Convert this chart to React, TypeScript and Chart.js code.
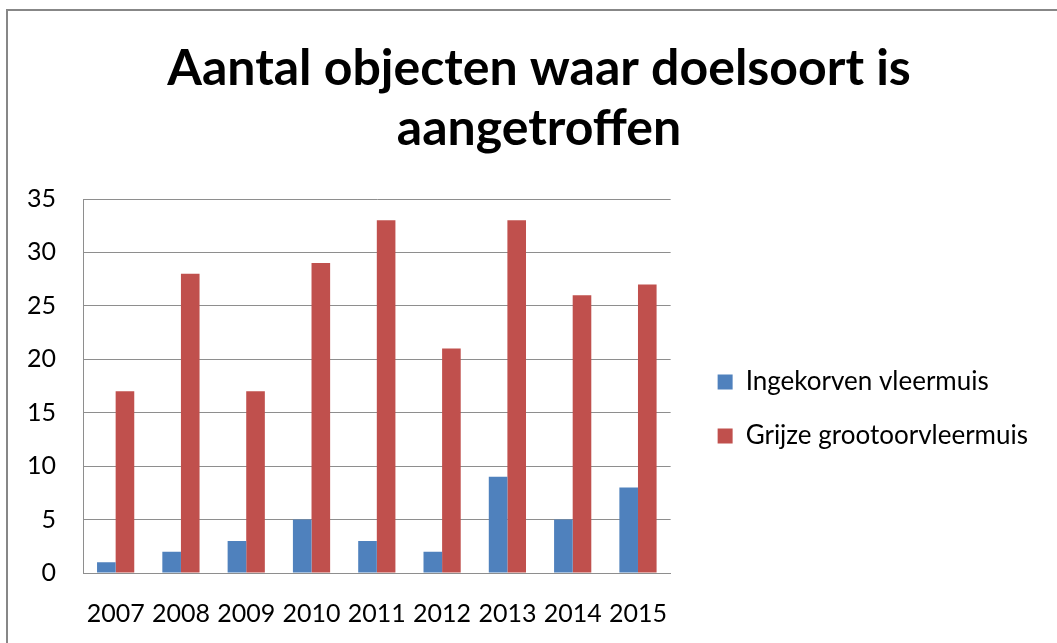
import React, { useEffect, useRef } from "react";
import { Chart, registerables } from "chart.js";

Chart.register(...registerables);

const years = ["2007", "2008", "2009", "2010", "2011", "2012", "2013", "2014", "2015"];
const ingekorven = [1, 2, 3, 5, 3, 2, 9, 5, 8];
const grijze = [17, 28, 17, 29, 33, 21, 33, 26, 27];
const titleLines = ["Aantal objecten waar doelsoort is", "aangetroffen"];
const seriesNames = ["Ingekorven vleermuis", "Grijze grootoorvleermuis"];

// centre the title over the whole framed box (not only the padded layout area)
const titleCenterPlugin = {
  id: "titleCenter",
  afterLayout(chart: any) {
    const t = chart.titleBlock;
    if (!t) return;
    const shift = chart.width / 2 - (t.left + t.right) / 2;
    t.left += shift;
    t.right += shift;
  },
};

export default function App() {
  const ref = useRef<HTMLCanvasElement>(null);
  useEffect(() => {
    if (!ref.current) return;
    const chart = new Chart(ref.current, {
      type: "bar",
      data: {
        labels: years,
        datasets: [
          { label: seriesNames[0], data: ingekorven, backgroundColor: "#4F81BD", borderWidth: 0, categoryPercentage: 0.57, barPercentage: 1 },
          { label: seriesNames[1], data: grijze, backgroundColor: "#C0504D", borderWidth: 0, categoryPercentage: 0.57, barPercentage: 1 },
        ],
      },
      options: {
        responsive: false,
        animation: false,
        layout: { padding: { left: 18, right: 32, top: 0, bottom: 0 } },
        plugins: {
          title: {
            display: true,
            text: titleLines,
            color: "#000",
            font: { family: "Lato", size: 50, weight: "bold", lineHeight: 60 / 50 },
            padding: { top: 28, bottom: 40 },
          },
          legend: {
            position: "right",
            maxWidth: 600,
            labels: {
              boxWidth: 15,
              boxHeight: 15,
              padding: 28,
              color: "#000",
              font: { family: "Lato", size: 26 },
            },
          },
          tooltip: { enabled: false },
        },
        scales: {
          x: {
            grid: { display: false, drawTicks: false },
            border: { display: true, color: "#8e8e8e", width: 1 },
            ticks: { color: "#000", font: { family: "Lato", size: 25 }, padding: 26, maxRotation: 0, autoSkip: false },
            afterFit: (s: any) => { s.height = 234; },
          },
          y: {
            min: 0,
            max: 35,
            grid: { color: "#8e8e8e", lineWidth: 1, drawTicks: false },
            border: { display: true, color: "#8e8e8e", width: 1 },
            ticks: { stepSize: 5, color: "#000", font: { family: "Lato", size: 25 }, padding: 27 },
            afterFit: (s: any) => { s.width = 57; },
          },
          y2: {
            type: "linear",
            position: "right",
            display: true,
            grid: { display: false, drawTicks: false },
            border: { display: false },
            ticks: { display: false },
            afterFit: (s: any) => { s.width = 19; },
          },
        },
      },
      plugins: [titleCenterPlugin],
    } as any);
    return () => chart.destroy();
  }, []);

  return (
    <div style={{ position: "fixed", left: 0, top: 0, width: 1057, height: 643, overflow: "hidden", background: "#fff" }}>
      <div style={{ position: "absolute", left: 6, top: 9, width: 1200, height: 1000, border: "2px solid #878787", boxSizing: "border-box" }} />
      <canvas ref={ref} width={1062} height={796} style={{ position: "absolute", left: 8, top: 11, display: "block", width: 1062, height: 796 }} />
    </div>
  );
}
